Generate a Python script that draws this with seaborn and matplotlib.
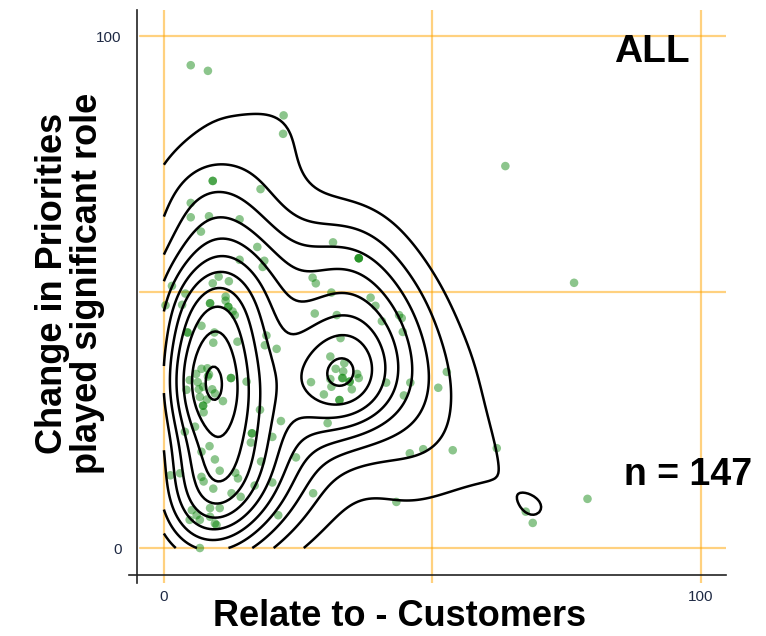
import numpy as np
import pandas as pd
import matplotlib
matplotlib.use("Agg")
import matplotlib.pyplot as plt
import seaborn as sns
from seaborn._statistics import KDE

# Survey responses (percent), grouped by region of the chart
x_upper = [5.0, 8.2, 22.3, 22.2, 9.1, 18.0, 5.0, 5.0, 8.4, 14.1, 6.9, 31.5, 36.3, 17.4, 14.1,
           18.7, 18.4, 27.7, 28.3, 31.2, 38.5, 39.4, 1.5, 10.2, 9.1, 12.1, 4.0, 11.5, 63.6, 76.4]
y_upper = [94.3, 93.2, 84.5, 80.9, 71.7, 70.1, 67.4, 64.6, 64.8, 64.2, 61.8, 59.7, 56.6, 58.8, 56.3,
           56.1, 54.9, 52.8, 51.7, 49.9, 48.9, 47.3, 51.2, 53.0, 51.7, 52.1, 49.7, 49.1, 74.6, 51.8]

x_mid_left = [0.3, 3.4, 8.6, 11.5, 12.0, 12.8, 13.2, 7.0, 9.4, 4.4, 9.2, 13.7, 19.1, 18.8, 21.0, 8.1,
              8.4, 4.8, 6.3, 7.3, 9.5, 12.5, 15.4, 4.2, 6.7, 11.0, 7.3, 7.4, 17.9, 21.8, 5.8, 3.9]
y_mid_left = [47.4, 47.5, 47.8, 48.3, 47.1, 46.2, 45.5, 43.4, 42.1, 42.1, 40.1, 40.3, 41.5, 39.6, 38.9, 35.1,
              33.9, 32.8, 32.4, 31.5, 30.2, 33.2, 32.5, 30.9, 29.5, 28.7, 27.8, 26.5, 27.0, 24.8, 23.7, 22.7]

x_mid_right = [28.1, 32.2, 43.8, 44.3, 40.6, 44.5, 32.9, 31.0, 33.6, 33.4, 33.2, 36.3, 34.6, 27.4, 31.2,
               29.8, 32.7, 41.4, 45.9, 44.7, 51.1, 52.7, 30.5]
y_mid_right = [45.8, 45.5, 45.5, 44.9, 44.3, 42.2, 41.0, 37.4, 36.1, 34.5, 33.2, 33.2, 32.5, 32.4, 31.5,
               30.0, 28.9, 32.3, 32.3, 29.8, 31.3, 34.4, 24.4]

x_lower = [16.4, 16.2, 20.2, 8.5, 7.0, 9.5, 10.4, 13.3, 13.8, 18.1, 24.6, 1.2, 3.0, 7.0, 7.4, 9.2, 12.6,
           14.3, 16.9, 20.2, 27.8, 21.3, 5.2, 6.1, 6.7, 8.6, 10.4, 8.6, 9.5, 9.8, 6.7, 4.8, 43.3, 45.8,
           48.3, 53.8, 62.0, 67.4, 68.7, 78.9]
y_lower = [22.4, 20.6, 21.7, 19.9, 18.8, 17.3, 15.1, 14.7, 13.6, 16.9, 17.7, 14.2, 14.6, 13.9, 13.0, 11.6,
           10.7, 10.0, 12.2, 12.8, 10.7, 6.4, 7.4, 6.4, 5.5, 7.8, 7.8, 6.1, 4.8, 4.5, 0.0, 5.5, 9.0, 18.5,
           19.3, 19.1, 19.5, 7.1, 4.9, 9.6]

# repeated answers that land on the same spot
x_repeat = [36.3, 36.3, 9.1, 8.2, 6.5, 7.3, 7.0, 9.0, 6.0, 33.3, 34.6, 12.0, 8.6, 8.0, 32.0, 35.0,
            36.0, 4.4, 12.5, 31.0, 32.7, 16.4]
y_repeat = [56.6, 56.6, 71.7, 33.5, 31.0, 27.8, 35.0, 31.0, 34.0, 33.2, 32.5, 47.1, 47.8, 29.0, 35.0,
            31.0, 34.0, 42.1, 33.2, 33.0, 28.9, 22.4]

grid_marks = [0, 50, 100]
tick_values = [0, 100]
tick_labels = ["0", "100"]

df = pd.DataFrame({
    "customers": np.concatenate([x_upper, x_mid_left, x_mid_right, x_lower, x_repeat]),
    "priorities": np.concatenate([y_upper, y_mid_left, y_mid_right, y_lower, y_repeat]),
})
n_obs = len(df)

sns.set_style("white")
plt.rcParams["font.family"] = ["Liberation Sans", "DejaVu Sans"]
plt.rcParams["text.color"] = "black"

fig = plt.figure(figsize=(7.66, 6.36), dpi=100)
ax = fig.add_axes([0.1684, 0.0836, 0.7794, 0.9008])

x_lo, x_hi = -6.5, 104.7
y_lo, y_hi = -6.8, 105.1
ax.set_xlim(x_lo, x_hi)
ax.set_ylim(y_lo, y_hi)

# orange guide lines
for v in grid_marks:
    ax.axvline(v, color="orange", alpha=0.5, lw=1.6, zorder=0)
    ax.axhline(v, xmin=0.018, color="orange", alpha=0.5, lw=1.6, zorder=0)

sns.scatterplot(data=df, x="customers", y="priorities", color="green", alpha=0.45,
                s=38, edgecolor="none", ax=ax, zorder=2)

# density contours at evenly spaced density heights
kde_kws = dict(bw_method="scott", bw_adjust=1.0, gridsize=200, cut=3, clip=((0, 100), (0, 100)))
density, _ = KDE(**kde_kws)(df["customers"].to_numpy(), df["priorities"].to_numpy())
dmax = density.max()
n_levels = 11
dens_levels = dmax / (n_levels + 0.15) * np.arange(1, n_levels + 1)
flat = np.sort(density.ravel())[::-1]
total = flat.sum()
props = sorted(float(1 - flat[flat >= L].sum() / total) for L in dens_levels)

sns.kdeplot(data=df, x="customers", y="priorities", levels=props, color="black",
            linewidths=1.8, ax=ax, zorder=3, **kde_kws)

# detached axis lines
for s in ["top", "right"]:
    ax.spines[s].set_visible(False)
ax.spines["left"].set_position(("data", -5.0))
ax.spines["left"].set_bounds(y_lo, y_hi)
ax.spines["bottom"].set_position(("data", -5.3))
ax.spines["bottom"].set_bounds(x_lo, x_hi)
for s in ["left", "bottom"]:
    ax.spines[s].set_linewidth(1.2)
    ax.spines[s].set_color("#222222")

ax.set_xticks(tick_values + [x_hi], tick_labels + [""])
ax.set_yticks(tick_values + [y_hi], tick_labels + [""])
ax.tick_params(axis="both", direction="out", length=6, width=1.2, color="#222222",
               labelsize=11, labelcolor="#1f2a44", pad=5)

ax.set_xlabel("Relate to - Customers", fontsize=26, fontweight="bold", color="black")
ax.xaxis.set_label_coords(0.454, -0.059)
ax.xaxis.label.set_va("center")
ax.set_ylabel("Change in Priorities\nplayed significant role", fontsize=26, fontweight="bold",
              color="black", linespacing=1.0)
ax.yaxis.set_label_coords(-0.099, 0.523)
ax.yaxis.label.set_va("center")

ax.text(97.95, 94.9, "ALL", ha="right", va="baseline", fontsize=28, fontweight="bold",
        color="black")
ax.text(109.5, 12.3, f"n = {n_obs}", ha="right", va="baseline", fontsize=27,
        fontweight="bold", color="black", clip_on=False)

fig.savefig("out.png", dpi=100)
